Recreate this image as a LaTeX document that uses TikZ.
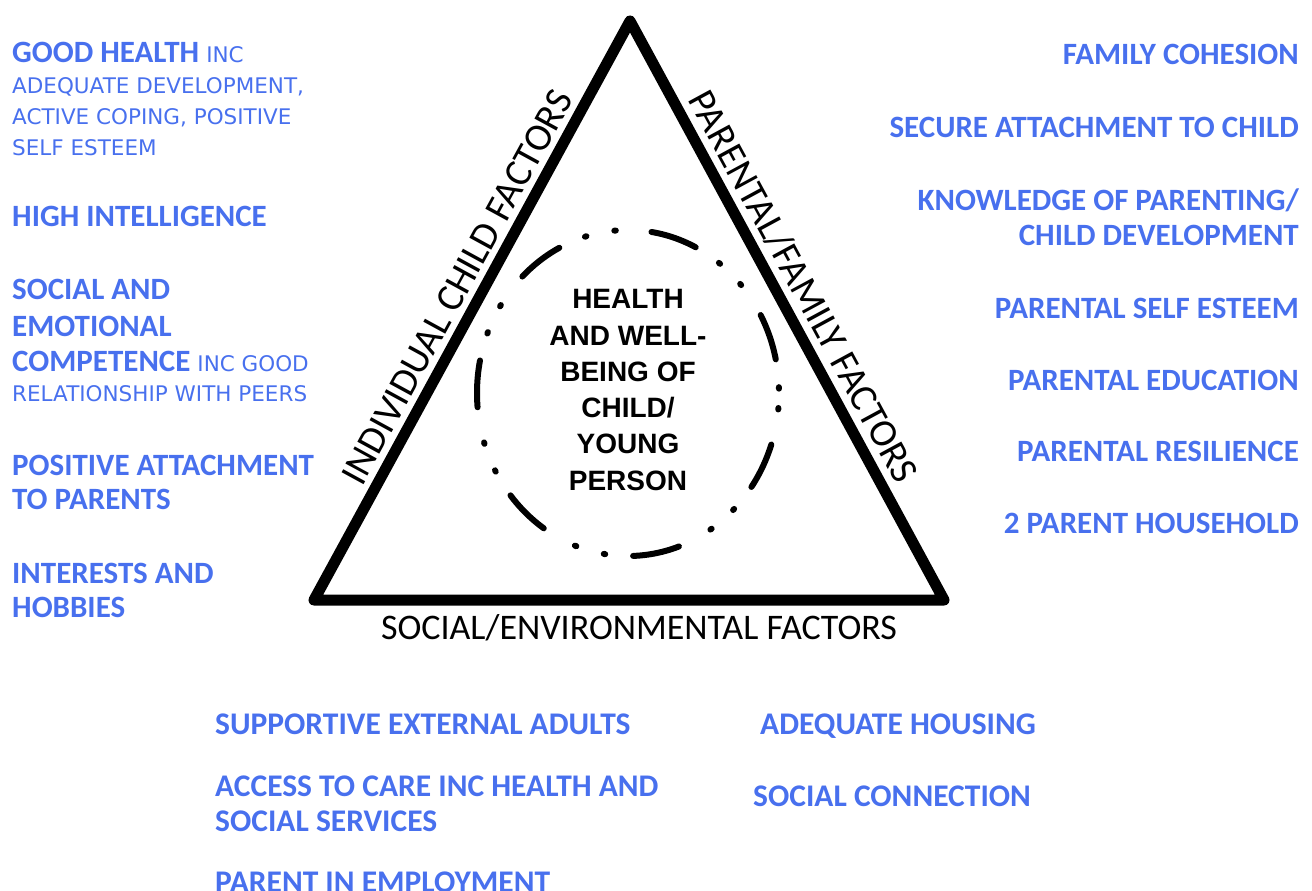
\documentclass[tikz,border=0pt]{standalone}
\usepackage{fontspec}
\setmainfont{Carlito}
\newfontfamily\calib{Carlito}
\newfontfamily\widesans{DejaVu Sans}
\newfontfamily\arialish{Liberation Sans}
\definecolor{factorblue}{RGB}{72,112,238}
\newcommand{\smallnote}{\widesans\mdseries\fontsize{21.5}{21.5}\selectfont}
\tikzset{
  leftbig/.style={anchor=base west, inner sep=0pt, text=factorblue,
    font=\calib\bfseries\fontsize{31}{31}\selectfont},
  leftsmall/.style={anchor=base west, inner sep=0pt, text=factorblue,
    font=\smallnote},
  rightitem/.style={anchor=base east, inner sep=0pt, text=factorblue,
    font=\calib\bfseries\fontsize{31}{31}\selectfont},
  bottomitem/.style={anchor=base west, inner sep=0pt, text=factorblue,
    font=\calib\bfseries\fontsize{31.5}{31.5}\selectfont},
  sidelabel/.style={font=\calib\fontsize{39}{39}\selectfont, inner sep=1pt},
  baselabel/.style={font=\calib\fontsize{36}{36}\selectfont, inner sep=1pt},
  triangle edge/.style={line width=11pt, line join=round, line cap=round},
  ring/.style={line width=6pt, line cap=round,
    dash pattern=on 47pt off 28pt on 1.5pt off 28.5pt on 1.5pt off 35.8pt,
    dash phase=90pt},
}
\begin{document}
\begin{tikzpicture}[x=1pt,y=-1pt]
\useasboundingbox (0,0) rectangle (1312,891);

% the triangle and its three factor groups
\coordinate (apex) at (630,21);
\coordinate (bl) at (314,600);
\coordinate (br) at (944,600);
\draw[triangle edge] (bl)
  -- node[sidelabel, sloped, above=5pt, pos=0.52] (indiv) {INDIVIDUAL CHILD FACTORS} (apex)
  -- node[sidelabel, sloped, above=5pt, pos=0.48] (family) {PARENTAL/FAMILY FACTORS} (br)
  -- cycle;
\node[baselabel, anchor=base] (socenv) at (639,639) {SOCIAL/ENVIRONMENTAL FACTORS};

% the child at the centre
\draw[ring] (628,393) ellipse [x radius=151, y radius=163];
\node[align=center, inner sep=0pt, font=\arialish\bfseries\fontsize{28}{36.3}\selectfont]
  (centre) at (628,390)
  {HEALTH\\AND WELL-\\BEING OF\\CHILD/\\YOUNG\\PERSON};

% individual child factors
\node[leftbig] (l1) at (12,63) {GOOD HEALTH {\smallnote INC}};
\node[leftsmall] (l1a) at (12,93) {ADEQUATE DEVELOPMENT,};
\node[leftsmall] (l1b) at (12,124) {ACTIVE COPING, POSITIVE};
\node[leftsmall] (l1c) at (12,155) {SELF ESTEEM};
\node[leftbig] (l2) at (12,226) {HIGH INTELLIGENCE};
\node[leftbig] (l3) at (12,299) {SOCIAL AND};
\node[leftbig] (l3a) at (12,336) {EMOTIONAL};
\node[leftbig] (l3b) at (12,371) {COMPETENCE {\smallnote INC GOOD}};
\node[leftsmall] (l3c) at (12,401) {RELATIONSHIP WITH PEERS};
\node[leftbig] (l4) at (12,475) {POSITIVE ATTACHMENT};
\node[leftbig] (l4a) at (12,509) {TO PARENTS};
\node[leftbig] (l5) at (12,583) {INTERESTS AND};
\node[leftbig] (l5a) at (12,617) {HOBBIES};

% parental / family factors
\node[rightitem] (r1) at (1299,64) {FAMILY COHESION};
\node[rightitem] (r2) at (1299,137) {SECURE ATTACHMENT TO CHILD};
\node[rightitem] (r3) at (1299,210) {KNOWLEDGE OF PARENTING/};
\node[rightitem] (r3a) at (1299,245) {CHILD DEVELOPMENT};
\node[rightitem] (r4) at (1299,318) {PARENTAL SELF ESTEEM};
\node[rightitem] (r5) at (1299,390) {PARENTAL EDUCATION};
\node[rightitem] (r6) at (1299,461) {PARENTAL RESILIENCE};
\node[rightitem] (r7) at (1299,533) {2 PARENT HOUSEHOLD};

% social / environmental factors
\node[bottomitem] (b1) at (215,734) {SUPPORTIVE EXTERNAL ADULTS};
\node[bottomitem] (b2) at (215,796) {ACCESS TO CARE INC HEALTH AND};
\node[bottomitem] (b2a) at (215,831) {SOCIAL SERVICES};
\node[bottomitem] (b3) at (215,892) {PARENT IN EMPLOYMENT};
\node[bottomitem] (b4) at (760,734) {ADEQUATE HOUSING};
\node[bottomitem] (b5) at (753,806) {SOCIAL CONNECTION};
\end{tikzpicture}
\end{document}
